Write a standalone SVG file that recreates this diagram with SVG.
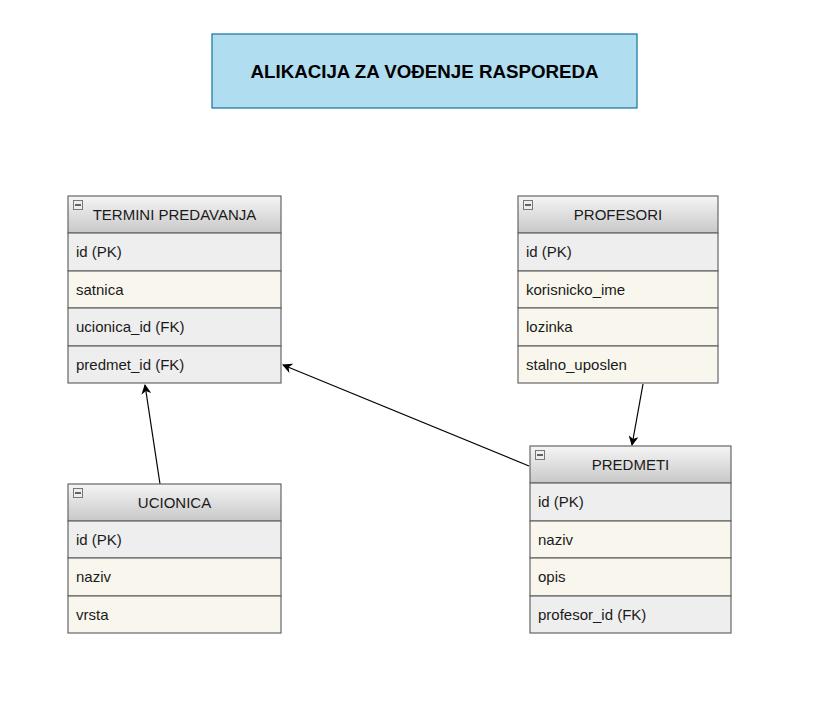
<svg xmlns="http://www.w3.org/2000/svg" width="819" height="711" viewBox="0 0 819 711">
<defs>
<linearGradient id="hdr" x1="0" y1="0" x2="0" y2="1">
<stop offset="0" stop-color="#f5f5f5"/>
<stop offset="1" stop-color="#c8c8c8"/>
</linearGradient>
<marker id="arr" viewBox="0 0 10 10" refX="9" refY="5" markerWidth="10" markerHeight="10" markerUnits="userSpaceOnUse" orient="auto">
<path d="M0,0 L10,5 L0,10 L3,5 Z" fill="#000"/>
</marker>
</defs>
<style>
.hdr{fill:url(#hdr);stroke:#666666;stroke-width:1.2}
.g{fill:#eeeeee;stroke:#666666;stroke-width:1.2}
.b{fill:#f9f7ed;stroke:#666666;stroke-width:1.2}
.t{font-family:"Liberation Sans",Arial,sans-serif;font-size:15px;fill:#1a1a1a}
.h{font-family:"Liberation Sans",Arial,sans-serif;font-size:15px;fill:#1a1a1a;text-anchor:middle}
.ico{fill:#eeeeee;stroke:#777;stroke-width:1}
.c{stroke:#000;stroke-width:1.2;fill:none;marker-end:url(#arr)}
</style>
<rect width="819" height="711" fill="#ffffff"/>
<g id="title">
<rect x="212" y="34" width="425" height="74" fill="#b1ddf0" stroke="#10739e" stroke-width="1.2"/>
<text x="424.5" y="78" text-anchor="middle" font-family="'Liberation Sans',Arial,sans-serif" font-size="18" font-weight="bold" fill="#000" textLength="348" lengthAdjust="spacingAndGlyphs">ALIKACIJA ZA VOĐENJE RASPOREDA</text>
</g>
<g id="connectors">
<line class="c" x1="160" y1="484" x2="145" y2="385"/>
<line class="c" x1="529" y1="466" x2="283" y2="365"/>
<line class="c" x1="643" y1="384" x2="632" y2="445"/>
</g>
<g id="termini">
<rect class="hdr" x="68" y="196" width="213" height="37"/>
<rect class="ico" x="73.5" y="200.5" width="9" height="9"/><line x1="75" y1="205" x2="81" y2="205" stroke="#333" stroke-width="1.5"/>
<text class="h" x="174.5" y="220">TERMINI PREDAVANJA</text>
<rect class="g" x="68" y="233" width="213" height="38"/>
<text class="t" x="76" y="257">id (PK)</text>
<rect class="b" x="68" y="271" width="213" height="37"/>
<text class="t" x="76" y="295">satnica</text>
<rect class="g" x="68" y="308" width="213" height="38"/>
<text class="t" x="76" y="332">ucionica_id (FK)</text>
<rect class="g" x="68" y="346" width="213" height="37"/>
<text class="t" x="76" y="370">predmet_id (FK)</text>
</g>
<g id="profesori">
<rect class="hdr" x="518" y="196" width="200" height="37"/>
<rect class="ico" x="523.5" y="200.5" width="9" height="9"/><line x1="525" y1="205" x2="531" y2="205" stroke="#333" stroke-width="1.5"/>
<text class="h" x="618" y="220">PROFESORI</text>
<rect class="g" x="518" y="233" width="200" height="38"/>
<text class="t" x="526" y="257">id (PK)</text>
<rect class="b" x="518" y="271" width="200" height="37"/>
<text class="t" x="526" y="295">korisnicko_ime</text>
<rect class="b" x="518" y="308" width="200" height="38"/>
<text class="t" x="526" y="332">lozinka</text>
<rect class="b" x="518" y="346" width="200" height="37"/>
<text class="t" x="526" y="370">stalno_uposlen</text>
</g>
<g id="predmeti">
<rect class="hdr" x="530" y="446" width="201" height="37"/>
<rect class="ico" x="535.5" y="450.5" width="9" height="9"/><line x1="537" y1="455" x2="543" y2="455" stroke="#333" stroke-width="1.5"/>
<text class="h" x="630.5" y="470">PREDMETI</text>
<rect class="g" x="530" y="483" width="201" height="38"/>
<text class="t" x="538" y="507">id (PK)</text>
<rect class="b" x="530" y="521" width="201" height="37"/>
<text class="t" x="538" y="545">naziv</text>
<rect class="b" x="530" y="558" width="201" height="38"/>
<text class="t" x="538" y="582">opis</text>
<rect class="g" x="530" y="596" width="201" height="37"/>
<text class="t" x="538" y="620">profesor_id (FK)</text>
</g>
<g id="ucionica">
<rect class="hdr" x="68" y="484" width="213" height="37"/>
<rect class="ico" x="73.5" y="488.5" width="9" height="9"/><line x1="75" y1="493" x2="81" y2="493" stroke="#333" stroke-width="1.5"/>
<text class="h" x="174.5" y="508">UCIONICA</text>
<rect class="g" x="68" y="521" width="213" height="37"/>
<text class="t" x="76" y="545">id (PK)</text>
<rect class="b" x="68" y="558" width="213" height="38"/>
<text class="t" x="76" y="582">naziv</text>
<rect class="b" x="68" y="596" width="213" height="37"/>
<text class="t" x="76" y="620">vrsta</text>
</g>
</svg>
